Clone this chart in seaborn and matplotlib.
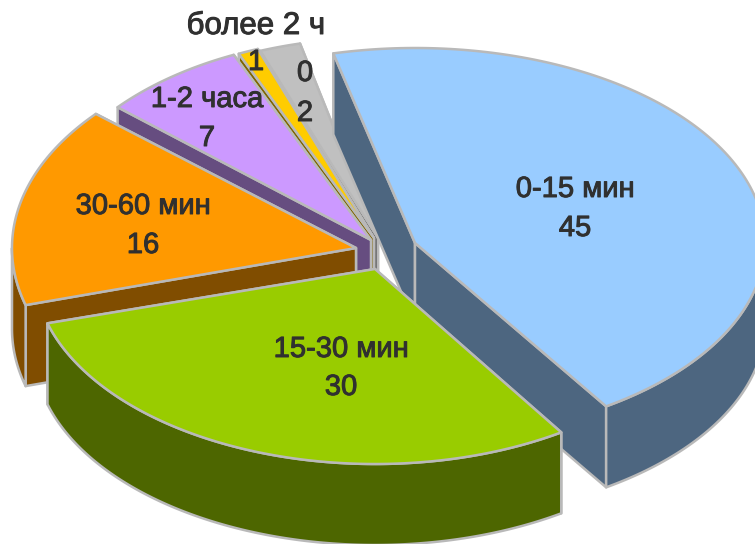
import numpy as np
import matplotlib
matplotlib.use("Agg")
import matplotlib.pyplot as plt
import matplotlib.patheffects as pe
import seaborn as sns

# Time-spent shares for an exploded 3D-style pie
categories = ["0-15 мин", "15-30 мин", "30-60 мин", "1-2 часа", "", "более 2 ч"]
values = [45, 30, 16, 7, 1, 2]
top_hex = ["#99CCFF", "#99CC00", "#FF9900", "#CC99FF", "#FFCC00", "#C0C0C0"]

# Layout of the projected pie, in pixels of the canvas
START_ANGLE = -13.5
RADII_X = [350, 341, 344, 335, 330, 334]
RADII_Y = [195, 195, 205, 203, 202, 200]
DEPTH = 81.0
APEX = [(415, 243), (375, 269), (356, 248), (371, 240), (374, 238), (378, 238)]
DRAW_ORDER = [5, 4, 3, 0, 2, 1]
EDGE = "#B9B9B9"

sns.set_theme(style="white")
plt.rcParams["font.family"] = ["Liberation Sans", "DejaVu Sans"]
top_colors = sns.color_palette(top_hex)
side_colors = [tuple(np.array(c) * 0.5) for c in top_colors]

fig = plt.figure(figsize=(7.55, 5.44), dpi=100, facecolor="white")
ax = fig.add_axes([0, 0, 1, 1])
ax.set_xlim(0, 755)
ax.set_ylim(544, 0)
ax.axis("off")


def polygon(points, color):
    ax.fill(points[:, 0], points[:, 1], facecolor=color, edgecolor=EDGE,
            linewidth=1.8, joinstyle="round")


shares = np.array(values, dtype=float) / sum(values) * 360.0
ends = START_ANGLE + np.cumsum(shares)
starts = ends - shares
drop = np.array([0.0, DEPTH])

for i in DRAW_ORDER:
    apex = np.array(APEX[i], dtype=float)
    arc_angles = np.linspace(starts[i], ends[i], 160)
    rad = np.radians(arc_angles)
    arc = np.column_stack([apex[0] + RADII_X[i] * np.sin(rad),
                           apex[1] - RADII_Y[i] * np.cos(rad)])

    # radial walls, the one reaching higher on the canvas goes first
    for edge_pt in sorted((arc[0], arc[-1]), key=lambda p: p[1]):
        polygon(np.array([apex, edge_pt, edge_pt + drop, apex + drop]), side_colors[i])

    # outer wall, only where the rim faces the viewer
    front = np.cos(rad) <= 0
    if front.any():
        seg = arc[front]
        polygon(np.vstack([seg, (seg + drop)[::-1]]), side_colors[i])

    polygon(np.vstack([apex, arc]), top_colors[i])

# Slice captions, regular weight thickened slightly with a stroke
INK = "#303030"
text_style = dict(ha="center", va="center", color=INK, fontsize=21,
                  path_effects=[pe.withStroke(linewidth=0.7, foreground=INK)])
captions = [
    (575, 189, categories[0]), (575, 228, str(values[0])),
    (341, 349, categories[1]), (341, 387, str(values[1])),
    (143, 206, categories[2]), (143, 245, str(values[2])),
    (207, 99, categories[3]), (207, 138, str(values[3])),
    (256, 62, str(values[4])),
    (305, 73, "0"), (305, 113, str(values[5])),
]
for x, y, s in captions:
    ax.text(x, y, s, **text_style)
ax.text(256, 26, categories[5], **{**text_style, "fontsize": 22.5})

fig.savefig("out.png", dpi=100, facecolor="white")
